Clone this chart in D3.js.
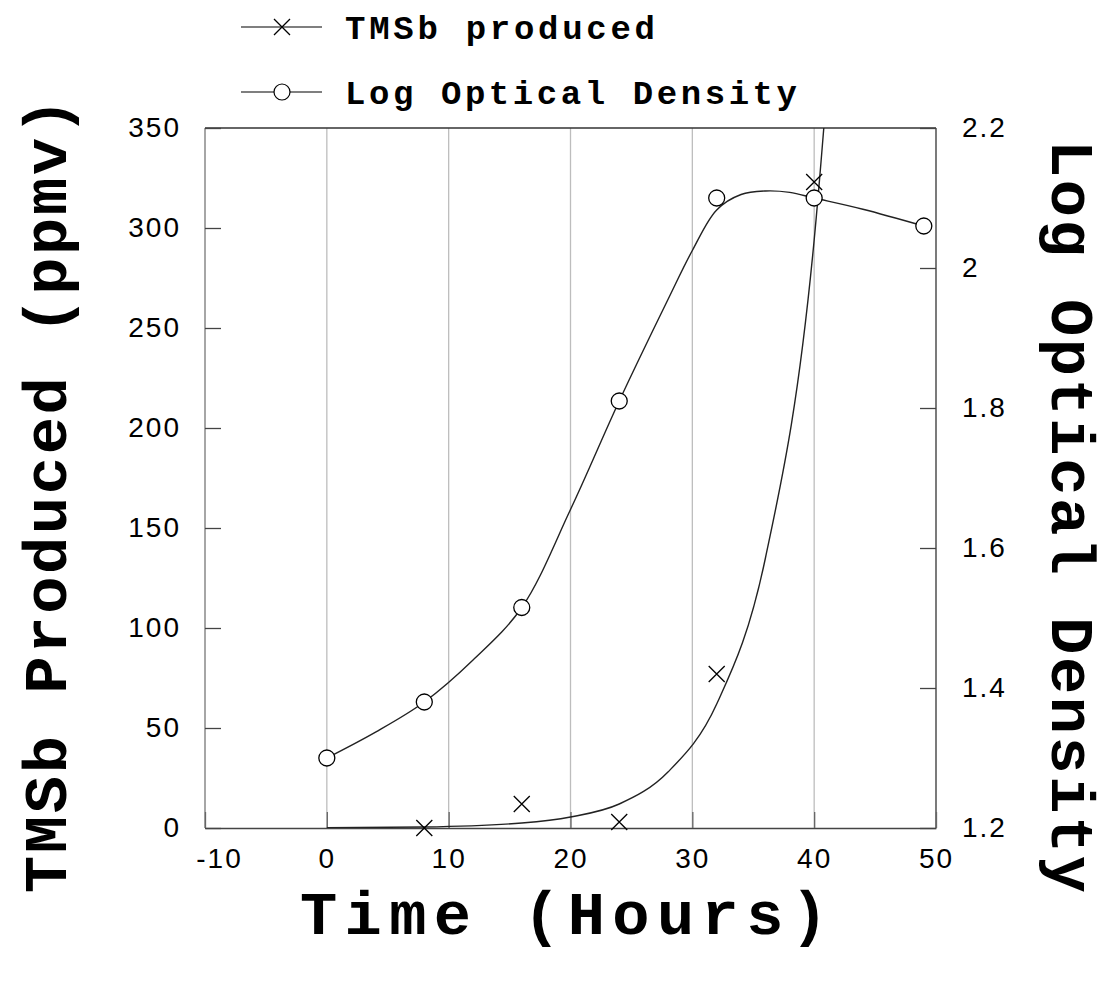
<!DOCTYPE html>
<html>
<head>
<meta charset="utf-8">
<script src="https://cdn.jsdelivr.net/npm/d3@7"></script>
<style>
body { margin: 0; background: #fff; }
.tick text { font-family: "Liberation Sans", Arial, sans-serif; font-size: 28px; letter-spacing: 2px; fill: #000; }
.ttl { font-family: "Liberation Mono", "Courier New", monospace; font-weight: bold; fill: #000; }
</style>
</head>
<body>
<script>
var w = 1111;
var h = 1006;

// measured points
var hours = [8, 16, 24, 32, 40];
var tmsb = [0, 12, 3, 77, 323];
var odHours = [0, 8, 16, 24, 32, 40, 49];
var logOD = [1.30, 1.38, 1.515, 1.81, 2.10, 2.10, 2.06];

// fitted curves
var tmsbFitX = [0, 8, 16, 20, 24, 28, 32, 36, 40, 42];
var tmsbFitY = [0.1, 0.5, 2.5, 5.5, 12, 28, 62, 135, 294, 446];
var odFitX = [0, 4, 8, 12, 16, 20, 24, 28, 30, 32, 34, 36, 38, 40, 44, 49];
var odFitY = [1.30, 1.337, 1.38, 1.44, 1.515, 1.655, 1.81, 1.955, 2.025, 2.083, 2.105, 2.11, 2.108, 2.10, 2.084, 2.06];

var xTicks = [-10, 0, 10, 20, 30, 40, 50];
var yTicks = [0, 50, 100, 150, 200, 250, 300, 350];
var y2Ticks = [1.2, 1.4, 1.6, 1.8, 2.0, 2.2];

var pl = 205, pr = 936, pt = 128, pb = 828;

var x = d3.scaleLinear().domain([-10, 50]).range([pl, pr]);
var y = d3.scaleLinear().domain([0, 350]).range([pb, pt]);
var y2 = d3.scaleLinear().domain([1.2, 2.2]).range([pb, pt]);

var svg = d3.select("body")
    .append("svg")
    .attr("width", w)
    .attr("height", h);

svg.append("clipPath").attr("id", "plot")
    .append("rect")
    .attr("x", pl).attr("y", pt)
    .attr("width", pr - pl).attr("height", pb - pt);

// vertical grid
svg.append("g")
    .selectAll("line")
    .data(xTicks.slice(1, -1))
    .enter()
    .append("line")
    .attr("x1", function(d){ return x(d); })
    .attr("x2", function(d){ return x(d); })
    .attr("y1", pt)
    .attr("y2", pb)
    .attr("stroke", "#bdbdbd")
    .attr("stroke-width", 1.3);

// frame
svg.append("line").attr("x1", pl).attr("x2", pr).attr("y1", pt).attr("y2", pt).attr("stroke", "#333").attr("stroke-width", 1.3);
svg.append("line").attr("x1", pr).attr("x2", pr).attr("y1", pt).attr("y2", pb).attr("stroke", "#333").attr("stroke-width", 1.3);
svg.append("line").attr("x1", pl).attr("x2", pl).attr("y1", pt).attr("y2", pb).attr("stroke", "#888").attr("stroke-width", 1.5);

// axes
var plain = function(d){ return String(d); };

var xAxis = svg.append("g")
    .attr("transform", "translate(0," + pb + ")")
    .call(d3.axisBottom(x).tickValues(xTicks).tickFormat(plain).tickSizeInner(-16).tickSizeOuter(0).tickPadding(20));
xAxis.select(".domain").attr("stroke", "#444").attr("stroke-width", 1.3);
xAxis.selectAll(".tick line").attr("stroke", "#666").attr("stroke-width", 1.3);
xAxis.selectAll(".tick text").filter(function(d){ return d < 0; }).attr("dx", 14);

var yAxis = svg.append("g")
    .attr("transform", "translate(" + pl + ",0)")
    .call(d3.axisLeft(y).tickValues(yTicks).tickFormat(plain).tickSizeInner(-16).tickSizeOuter(0).tickPadding(24));
yAxis.select(".domain").remove();
yAxis.selectAll(".tick line").attr("stroke", "#444").attr("stroke-width", 1.3);

var y2Axis = svg.append("g")
    .attr("transform", "translate(" + pr + ",0)")
    .call(d3.axisRight(y2).tickValues(y2Ticks).tickFormat(plain).tickSizeInner(-16).tickSizeOuter(0).tickPadding(26));
y2Axis.select(".domain").remove();
y2Axis.selectAll(".tick line").attr("stroke", "#444").attr("stroke-width", 1.3);

// curves
var tmsbFit = tmsbFitX.map(function(d, i){ return [d, tmsbFitY[i]]; });
var odFit = odFitX.map(function(d, i){ return [d, odFitY[i]]; });

svg.append("path")
    .datum(tmsbFit)
    .attr("clip-path", "url(#plot)")
    .attr("fill", "none")
    .attr("stroke", "#222")
    .attr("stroke-width", 1.4)
    .attr("d", d3.line().curve(d3.curveMonotoneX)
        .x(function(d){ return x(d[0]); })
        .y(function(d){ return y(d[1]); }));

svg.append("path")
    .datum(odFit)
    .attr("fill", "none")
    .attr("stroke", "#222")
    .attr("stroke-width", 1.4)
    .attr("d", d3.line().curve(d3.curveCatmullRom.alpha(0.5))
        .x(function(d){ return x(d[0]); })
        .y(function(d){ return y2(d[1]); }));

// markers
function cross(g, cx, cy){
    g.append("path")
        .attr("d", "M" + (cx - 8) + "," + (cy - 8) + "L" + (cx + 8) + "," + (cy + 8) +
                   "M" + (cx - 8) + "," + (cy + 8) + "L" + (cx + 8) + "," + (cy - 8))
        .attr("stroke", "#000")
        .attr("stroke-width", 1.3)
        .attr("fill", "none");
}

var marks = svg.append("g");
hours.forEach(function(d, i){ cross(marks, x(d), y(tmsb[i])); });

svg.append("g")
    .selectAll("circle")
    .data(odHours)
    .enter()
    .append("circle")
    .attr("cx", function(d){ return x(d); })
    .attr("cy", function(d, i){ return y2(logOD[i]); })
    .attr("r", 8)
    .attr("fill", "#fff")
    .attr("stroke", "#000")
    .attr("stroke-width", 1.3);

// legend
var leg = svg.append("g");
leg.append("line").attr("x1", 241).attr("x2", 322).attr("y1", 27).attr("y2", 27).attr("stroke", "#000").attr("stroke-width", 1.2);
cross(leg, 282, 27);
leg.append("text").attr("class", "ttl").attr("x", 345).attr("y", 39).attr("font-size", 34)
    .attr("textLength", 310).attr("lengthAdjust", "spacing").text("TMSb produced");
leg.append("line").attr("x1", 241).attr("x2", 322).attr("y1", 92).attr("y2", 92).attr("stroke", "#000").attr("stroke-width", 1.2);
leg.append("circle").attr("cx", 282).attr("cy", 92).attr("r", 8).attr("fill", "#fff").attr("stroke", "#000").attr("stroke-width", 1.2);
leg.append("text").attr("class", "ttl").attr("x", 345).attr("y", 104).attr("font-size", 34)
    .attr("textLength", 452).attr("lengthAdjust", "spacing").text("Log Optical Density");

// axis titles
svg.append("text").attr("class", "ttl").attr("x", 300).attr("y", 934).attr("font-size", 62)
    .attr("textLength", 528).attr("lengthAdjust", "spacing").text("Time (Hours)");

svg.append("text").attr("class", "ttl")
    .attr("transform", "translate(66,893) rotate(-90)")
    .attr("font-size", 62)
    .attr("textLength", 795).attr("lengthAdjust", "spacing")
    .text("TMSb Produced (ppmv)");

svg.append("text").attr("class", "ttl")
    .attr("transform", "translate(1052,140) rotate(90)")
    .attr("font-size", 62)
    .attr("textLength", 753).attr("lengthAdjust", "spacing")
    .text("Log Optical Density");
</script>
</body>
</html>
